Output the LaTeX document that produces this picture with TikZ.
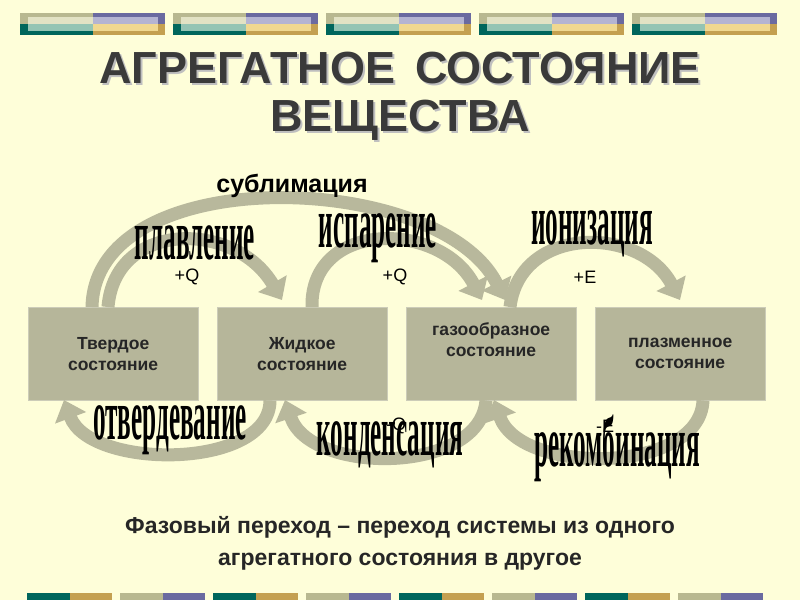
\documentclass[tikz,border=0pt]{standalone}
\usepackage{fontspec}
\setmainfont{Liberation Sans}
\newfontfamily\cond{Liberation Serif}
\usetikzlibrary{arrows.meta}
\definecolor{bg}{HTML}{FEFED9}
\definecolor{boxc}{HTML}{B6B69A}
\definecolor{arr}{HTML}{B8B89C}
\definecolor{olv}{HTML}{B8B890}
\definecolor{olvl}{HTML}{E2E2C4}
\definecolor{pur}{HTML}{6A6AA0}
\definecolor{purl}{HTML}{B4B4D2}
\definecolor{tea}{HTML}{00665C}
\definecolor{teal2}{HTML}{94C4B4}
\definecolor{gld}{HTML}{C4A050}
\definecolor{gldl}{HTML}{F0D890}
\definecolor{ttl}{HTML}{3A3A3A}
\begin{document}
\begin{tikzpicture}[x=1pt,y=-1pt,
  st/.style={draw=boxc!70!white,fill=boxc,minimum width=170pt,minimum height=93pt,anchor=north west,inner sep=0pt,font=\bfseries\fontsize{17.5}{21}\selectfont,text=black!85,align=center},
  ar/.style={draw=arr,line width=13pt,-{Triangle[width=32pt,length=19pt]}},
  big/.style={font=\cond\bfseries\fontsize{24}{24}\selectfont,xscale=1.05,yscale=3.0},
  pq/.style={font=\fontsize{18}{18}\selectfont}]
\useasboundingbox (0,0) rectangle (800,600);
\fill[bg] (0,0) rectangle (800,600);
% top bars
\foreach \i in {0,...,4}{
  \begin{scope}[shift={(20+153*\i,13)}]
  \fill[olv] (0,0) rectangle (73,11);
  \fill[pur] (73,0) rectangle (145,11);
  \fill[tea] (0,11) rectangle (73,22);
  \fill[gld] (73,11) rectangle (145,22);
  \fill[olvl] (8,4) rectangle (73,11);
  \fill[purl] (73,4) rectangle (138,11);
  \fill[teal2] (8,11) rectangle (73,18);
  \fill[gldl] (73,11) rectangle (138,18);
  \end{scope}}
% bottom bars
\foreach \i in {0,...,7}{
  \pgfmathsetmacro\xx{27+93*\i}
  \ifodd\i
    \fill[olv] (\xx,593) rectangle ++(43,7); \fill[pur] (\xx+43,593) rectangle ++(42,7);
  \else
    \fill[tea] (\xx,593) rectangle ++(43,7); \fill[gld] (\xx+43,593) rectangle ++(42,7);
  \fi}
% title
\foreach \dx/\c in {2/black!25,0/ttl}{
\node[text=\c,font=\bfseries\fontsize{45}{45}\selectfont] (t1) at (400+\dx,68+\dx) {АГРЕГАТНОЕ\, СОСТОЯНИЕ};
\node[text=\c,font=\bfseries\fontsize{45}{45}\selectfont] (t2) at (400+\dx,120+\dx) {ВЕЩЕСТВА};}
% boxes
\node[st] (s) at (28,307) {Твердое\\состояние};
\node[st] (l) at (217,307) {Жидкое\\состояние};
\node[st] (g) at (406,307) {газообразное\\состояние\\[8pt]};
\node[st] (p) at (595,307) {плазменное\\состояние};
% arrows top
\coordinate (s1) at (92,307); \coordinate (s2) at (108,307);
\coordinate (l1) at (312,307); \coordinate (g1) at (510,307);
\draw[ar] (s1) .. controls (95,160) and (440,170) .. (505,300);
\draw[ar] (s2) .. controls (115,220) and (235,220) .. (282,300);
\draw[ar] (l1) .. controls (310,220) and (440,220) .. (482,300);
\draw[ar] (g1) .. controls (520,225) and (640,225) .. (680,300);
% arrows bottom
\draw[ar] (l.south west) ++(53,0) coordinate (l2) .. controls (270,470) and (90,470) .. (64,400);
\draw[ar] (g.south west) ++(80,0) coordinate (g2) .. controls (480,475) and (310,475) .. (285,400);
\draw[ar] (p.south west) ++(108,0) coordinate (p2) .. controls (700,475) and (520,475) .. (494,400);
% labels
\node[font=\bfseries\fontsize{25}{25}\selectfont] (sub) at (292,186) {сублимация};
\node[big] (pl) at (195,243) {плавление};
\node[big] (isp) at (378,238) {испарение};
\node[big] (ion) at (592,234) {ионизация};
\node[pq] (q1) at (187,277) {+Q};
\node[pq] (q2) at (395,277) {+Q};
\node[pq] (e1) at (585,277) {+E};
\node[big] (otv) at (170,430) {отвердевание};
\node[pq] (q3) at (396,426) {-Q};
\node[big] (kon) at (390,445) {конденсация};
\node[pq] (e2) at (605,426) {-E};
\node[big] (rek) at (617,448) {рекомбинация};
% bottom text
\node[font=\bfseries\fontsize{23}{32}\selectfont,align=center,text=black!85] (def) at (400,543) {Фазовый переход -- переход системы из одного\\агрегатного состояния в другое};
\end{tikzpicture}
\end{document}
